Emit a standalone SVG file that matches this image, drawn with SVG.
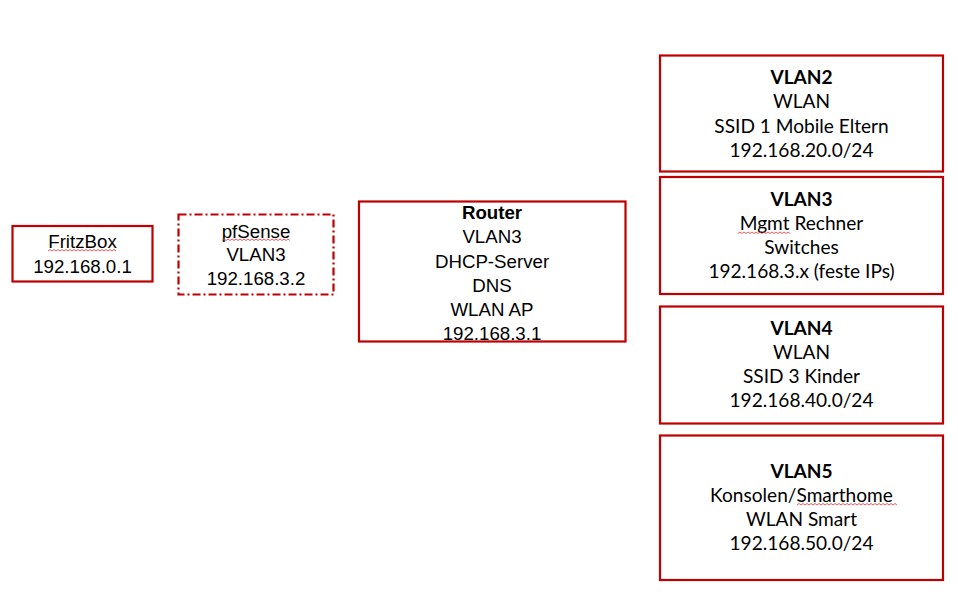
<svg xmlns="http://www.w3.org/2000/svg" width="958" height="592" viewBox="0 0 958 592">
<style>
.box{fill:#fff;stroke:#C00000;stroke-width:2.2}
.dash{stroke-dasharray:8 3 2 3}
.a{font-family:"Liberation Sans",Arial,sans-serif;font-size:18.7px;fill:#000;text-anchor:middle}
.b{font-family:Lato,"Liberation Sans",sans-serif;font-size:19.1px;fill:#000;text-anchor:middle}
.bold{font-weight:bold}
.sq{fill:none;stroke:#E03030;stroke-width:0.8}
</style>
<rect width="958" height="592" fill="#fff"/>
<g id="connectors"></g>
<g id="fritzbox">
<rect class="box" x="12.5" y="226" width="140" height="55.5"/>
<text class="a" x="82.5" y="248">FritzBox</text>
<text class="a" x="82.5" y="272.5">192.168.0.1</text>
<path class="sq" d="M48 251 l2-1.5 2 1.5 2-1.5 2 1.5 2-1.5 2 1.5 2-1.5 2 1.5 2-1.5 2 1.5  2-1.5 2 1.5 2-1.5 2 1.5 2-1.5 2 1.5 2-1.5 2 1.5 2-1.5 2 1.5  2-1.5 2 1.5 2-1.5 2 1.5 2-1.5 2 1.5 2-1.5 2 1.5 2-1.5 2 1.5  2-1.5 2 1.5 2-1.5 2 1.5"/>
</g>
<g id="pfsense">
<rect class="box dash" x="178.5" y="214.5" width="155" height="80"/>
<text class="a" x="256" y="237.5">pfSense</text>
<text class="a" x="256" y="261">VLAN3</text>
<text class="a" x="256" y="284.5">192.168.3.2</text>
<path class="sq" d="M222 240.5 l2-1.5 2 1.5 2-1.5 2 1.5 2-1.5 2 1.5 2-1.5 2 1.5 2-1.5 2 1.5  2-1.5 2 1.5 2-1.5 2 1.5 2-1.5 2 1.5 2-1.5 2 1.5 2-1.5 2 1.5  2-1.5 2 1.5 2-1.5 2 1.5 2-1.5 2 1.5 2-1.5 2 1.5 2-1.5 2 1.5  2-1.5 2 1.5 2-1.5 2 1.5"/>
</g>
<g id="router">
<rect class="box" x="359" y="201.5" width="266.5" height="140"/>
<text class="a bold" x="492" y="218.5">Router</text>
<text class="a" x="492" y="243">VLAN3</text>
<text class="a" x="492" y="267.5">DHCP-Server</text>
<text class="a" x="492" y="291.5">DNS</text>
<text class="a" x="492" y="315.5">WLAN AP</text>
<text class="a" x="492" y="339.5">192.168.3.1</text>
</g>
<g id="vlan2">
<rect class="box" x="660" y="55.5" width="283" height="116"/>
<text class="b bold" x="801.5" y="84">VLAN2</text>
<text class="b" x="801.5" y="108">WLAN</text>
<text class="b" x="801.5" y="132.5">SSID 1 Mobile Eltern</text>
<text class="b" x="801.5" y="156.5">192.168.20.0/24</text>
</g>
<g id="vlan3">
<rect class="box" x="660" y="177" width="283" height="117"/>
<text class="b bold" x="801.5" y="206">VLAN3</text>
<text class="b" x="801.5" y="229.5">Mgmt Rechner</text>
<text class="b" x="801.5" y="253.5">Switches</text>
<text class="b" x="801.5" y="277.5">192.168.3.x (feste IPs)</text>
<path class="sq" d="M738 233.5 l2-1.5 2 1.5 2-1.5 2 1.5 2-1.5 2 1.5 2-1.5 2 1.5 2-1.5 2 1.5  2-1.5 2 1.5 2-1.5 2 1.5 2-1.5 2 1.5 2-1.5 2 1.5 2-1.5 2 1.5  2-1.5 2 1.5 2-1.5 2 1.5 2-1.5 2 1.5"/>
</g>
<g id="vlan4">
<rect class="box" x="660" y="306.5" width="283" height="117"/>
<text class="b bold" x="801.5" y="334.5">VLAN4</text>
<text class="b" x="801.5" y="358.5">WLAN</text>
<text class="b" x="801.5" y="382.5">SSID 3 Kinder</text>
<text class="b" x="801.5" y="406.5">192.168.40.0/24</text>
</g>
<g id="vlan5">
<rect class="box" x="660" y="435.5" width="283" height="144.5"/>
<text class="b bold" x="801.5" y="478">VLAN5</text>
<text class="b" x="801.5" y="502">Konsolen/Smarthome</text>
<text class="b" x="801.5" y="526">WLAN Smart</text>
<text class="b" x="801.5" y="550">192.168.50.0/24</text>
<path class="sq" d="M797 505 l2-1.5 2 1.5 2-1.5 2 1.5 2-1.5 2 1.5 2-1.5 2 1.5 2-1.5 2 1.5  2-1.5 2 1.5 2-1.5 2 1.5 2-1.5 2 1.5 2-1.5 2 1.5 2-1.5 2 1.5  2-1.5 2 1.5 2-1.5 2 1.5 2-1.5 2 1.5 2-1.5 2 1.5 2-1.5 2 1.5  2-1.5 2 1.5 2-1.5 2 1.5 2-1.5 2 1.5 2-1.5 2 1.5 2-1.5 2 1.5  2-1.5 2 1.5 2-1.5 2 1.5 2-1.5 2 1.5 2-1.5 2 1.5 2-1.5 2 1.5"/>
</g>
</svg>
